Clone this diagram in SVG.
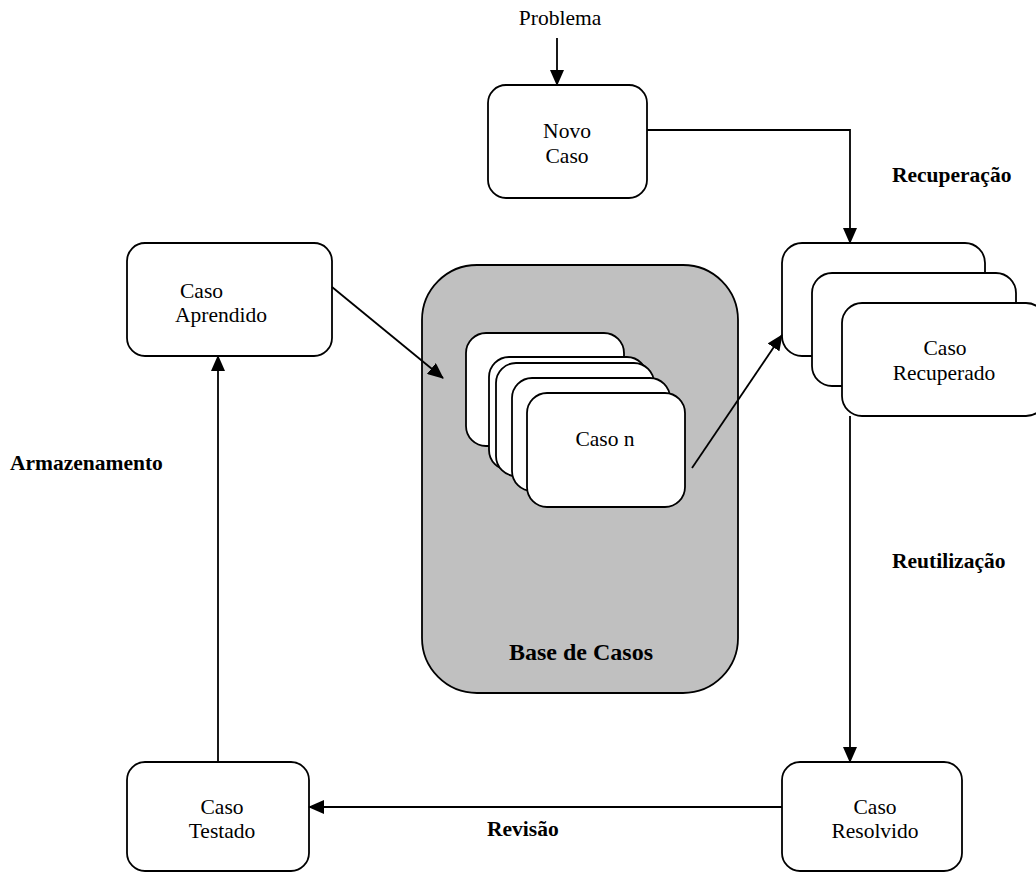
<svg xmlns="http://www.w3.org/2000/svg" width="1036" height="873" viewBox="0 0 1036 873">
<style>
.box{fill:#fff;stroke:#000;stroke-width:1.8}
.base{fill:#c0c0c0;stroke:#000;stroke-width:1.8}
.t{font-family:"Liberation Serif","Times New Roman",serif;font-size:21.5px;fill:#000}
.c{text-anchor:middle}
.b{font-weight:bold}
.ln{fill:none;stroke:#000;stroke-width:1.8}
</style>
<defs>
<marker id="ah" markerWidth="16" markerHeight="14" refX="15" refY="7" orient="auto" markerUnits="userSpaceOnUse">
<path d="M0,0 L16,7 L0,14 Z" fill="#000"/>
</marker>
</defs>
<rect width="1036" height="873" fill="#fff"/>
<text class="t c" x="560" y="25">Problema</text>
<g id="novo-caso">
<rect class="box" x="488" y="85" width="159" height="113" rx="18"/>
<text class="t c" x="567" y="138">Novo</text>
<text class="t c" x="567" y="163">Caso</text>
</g>
<g id="caso-aprendido">
<rect class="box" x="127" y="243" width="205" height="113" rx="18"/>
<text class="t" x="180" y="298">Caso</text>
<text class="t" x="175" y="322">Aprendido</text>
</g>
<g id="base-de-casos">
<rect class="base" x="422" y="265" width="316" height="428" rx="55"/>
<rect class="box" x="466" y="333" width="158" height="113" rx="20"/>
<rect class="box" x="489" y="357" width="158" height="113" rx="20"/>
<rect class="box" x="496" y="363" width="158" height="113" rx="20"/>
<rect class="box" x="512" y="378" width="158" height="113" rx="20"/>
<rect class="box" x="527" y="393" width="158" height="114" rx="20"/>
<text class="t c" x="605" y="446">Caso n</text>
<text class="t c b" x="581" y="660" style="font-size:24px">Base de Casos</text>
</g>
<g id="caso-recuperado">
<rect class="box" x="782" y="243" width="203" height="113" rx="20"/>
<rect class="box" x="812" y="273" width="204" height="113" rx="20"/>
<rect class="box" x="842" y="303" width="204" height="113" rx="20"/>
<text class="t c" x="945" y="355">Caso</text>
<text class="t c" x="944" y="380">Recuperado</text>
</g>
<g id="caso-resolvido">
<rect class="box" x="782" y="762" width="180" height="109" rx="18"/>
<text class="t c" x="875" y="814">Caso</text>
<text class="t c" x="875" y="838">Resolvido</text>
</g>
<g id="caso-testado">
<rect class="box" x="127" y="762" width="182" height="109" rx="18"/>
<text class="t c" x="222" y="814">Caso</text>
<text class="t c" x="222" y="838">Testado</text>
</g>
<g id="connectors">
<line class="ln" x1="557" y1="38" x2="557" y2="85" marker-end="url(#ah)"/>
<polyline class="ln" points="647,130 850,130 850,243" marker-end="url(#ah)"/>
<line class="ln" x1="850" y1="416" x2="850" y2="762" marker-end="url(#ah)"/>
<line class="ln" x1="782" y1="807" x2="309" y2="807" marker-end="url(#ah)"/>
<line class="ln" x1="218" y1="762" x2="218" y2="356" marker-end="url(#ah)"/>
<line class="ln" x1="332" y1="287" x2="443" y2="378" marker-end="url(#ah)"/>
<line class="ln" x1="692" y1="468" x2="782" y2="335" marker-end="url(#ah)"/>
</g>
<g id="labels">
<text class="t b" x="892" y="182">Recuperação</text>
<text class="t b" x="892" y="568">Reutilização</text>
<text class="t b" x="10" y="470">Armazenamento</text>
<text class="t b" x="487" y="836">Revisão</text>
</g>
</svg>
